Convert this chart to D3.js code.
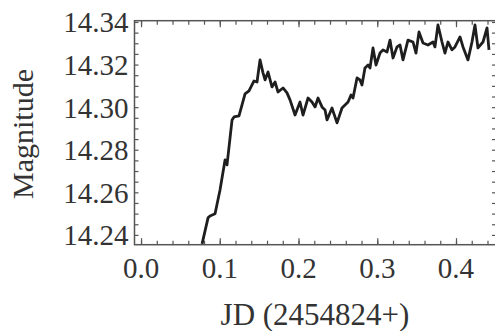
<!DOCTYPE html>
<html>
<head>
<meta charset="utf-8">
<script src="https://cdn.jsdelivr.net/npm/d3@7"></script>
<style>
html,body{margin:0;padding:0;background:#fff;}
svg{display:block;}
text{font-family:"Liberation Serif","DejaVu Serif",serif;fill:#333;}
</style>
</head>
<body>
<svg id="chart" width="495" height="331"></svg>
<script>
const jd = [0.0775,0.0851,0.0876,0.0940,0.1003,0.1067,0.1092,0.1156,0.1181,0.1244,
  0.1321,0.1371,0.1435,0.1473,0.1511,0.1549,0.1575,0.1613,0.1663,0.1702,
  0.1740,0.1803,0.1854,0.1892,0.1956,0.2019,0.2057,0.2121,0.2171,0.2210,
  0.2248,0.2298,0.2337,0.2362,0.2425,0.2489,0.2552,0.2629,0.2667,0.2692,
  0.2743,0.2781,0.2806,0.2844,0.2883,0.2908,0.2946,0.2984,0.3035,0.3073,
  0.3124,0.3162,0.3200,0.3251,0.3289,0.3327,0.3390,0.3454,0.3492,0.3530,
  0.3581,0.3644,0.3708,0.3733,0.3771,0.3822,0.3860,0.3898,0.3949,0.3987,
  0.4051,0.4089,0.4152,0.4203,0.4241,0.4279,0.4343,0.4394,0.4419];
const magnitude = [14.2358,14.2480,14.2489,14.2499,14.2611,14.2752,14.2729,14.2940,14.2954,14.2959,
  14.3062,14.3076,14.3123,14.3118,14.3222,14.3161,14.3128,14.3165,14.3095,14.3118,
  14.3071,14.3090,14.3067,14.3034,14.2963,14.3024,14.2963,14.3043,14.3024,14.3001,
  14.3043,14.3001,14.2987,14.2940,14.2996,14.2926,14.2996,14.3024,14.3057,14.3043,
  14.3137,14.3128,14.3104,14.3184,14.3198,14.3184,14.3278,14.3198,14.3254,14.3269,
  14.3259,14.3315,14.3231,14.3283,14.3292,14.3222,14.3315,14.3306,14.3254,14.3353,
  14.3301,14.3292,14.3306,14.3283,14.3386,14.3306,14.3254,14.3306,14.3269,14.3283,
  14.3330,14.3283,14.3222,14.3306,14.3386,14.3278,14.3306,14.3372,14.3269];
const xTickLabels = [0.0, 0.1, 0.2, 0.3, 0.4];
const yTickLabels = [14.24, 14.26, 14.28, 14.30, 14.32, 14.34];
const xTitle = "JD (2454824+)";
const yTitle = "Magnitude";

const L = 134.5, R = 496, T = 20.7, B = 244.7;
const x = d3.scaleLinear().domain([-0.0083, 0.4508]).range([L, R]);
const y = d3.scaleLinear().domain([14.2354, 14.3406]).range([B, T]);

const svg = d3.select("#chart");
svg.append("defs").append("clipPath").attr("id","clip")
  .append("rect").attr("x",L).attr("y",T).attr("width",R-L).attr("height",B-T);

const frameColor = "#555";
const xMinor = d3.range(0, 0.4401, 0.02);
const yMinor = d3.range(14.24, 14.3401, 0.005);

const bottomAx = d3.axisBottom(x).tickValues(xMinor).tickSizeInner(-4).tickSizeOuter(0).tickFormat("");
const topAx = d3.axisTop(x).tickValues(xMinor).tickSizeInner(-4).tickSizeOuter(0).tickFormat("");
const leftAx = d3.axisLeft(y).tickValues(yMinor).tickSizeInner(-4).tickSizeOuter(0).tickFormat("");
const rightAx = d3.axisRight(y).tickValues(yMinor).tickSizeInner(-4).tickSizeOuter(0).tickFormat("");

function style(g){
  g.select(".domain").remove();
  g.selectAll(".tick line").attr("stroke", frameColor).attr("stroke-width", 1.2);
}
svg.append("g").attr("transform",`translate(0,${B})`).call(bottomAx).call(style);
svg.append("g").attr("transform",`translate(0,${T})`).call(topAx).call(style);
svg.append("g").attr("transform",`translate(${L},0)`).call(leftAx).call(style);
svg.append("g").attr("transform",`translate(${R},0)`).call(rightAx).call(style);

svg.append("g").attr("transform",`translate(0,${B})`)
  .call(d3.axisBottom(x).tickValues(xTickLabels).tickSizeInner(-6.5).tickSizeOuter(0).tickFormat(""))
  .call(style);
svg.append("g").attr("transform",`translate(0,${T})`)
  .call(d3.axisTop(x).tickValues(xTickLabels).tickSizeInner(-6.5).tickSizeOuter(0).tickFormat(""))
  .call(style);

svg.append("rect").attr("x",L).attr("y",T).attr("width",R-L).attr("height",B-T)
  .attr("fill","none").attr("stroke",frameColor).attr("stroke-width",1.5);

const line = d3.line().x((d,i)=>x(jd[i])).y((d,i)=>y(magnitude[i]));
svg.append("path").datum(jd).attr("clip-path","url(#clip)")
  .attr("d", line).attr("fill","none").attr("stroke","#1e1e1e")
  .attr("stroke-width",2.8).attr("stroke-linejoin","round");

svg.append("g").selectAll("text").data(xTickLabels).join("text")
  .attr("x", d=>x(d)).attr("y", 278).attr("text-anchor","middle")
  .attr("font-size", 29).text(d=>d3.format(".1f")(d));
svg.append("g").selectAll("text").data(yTickLabels).join("text")
  .attr("x", 128.5).attr("y", d=>y(d)+10.5).attr("text-anchor","end")
  .attr("font-size", 29).text(d=>d3.format(".2f")(d));

svg.append("text").attr("x", 315).attr("y", 325).attr("text-anchor","middle")
  .attr("font-size", 31).text(xTitle);
svg.append("text").attr("transform","translate(33,134) rotate(-90)")
  .attr("text-anchor","middle").attr("font-size", 30).text(yTitle);
</script>
</body>
</html>
